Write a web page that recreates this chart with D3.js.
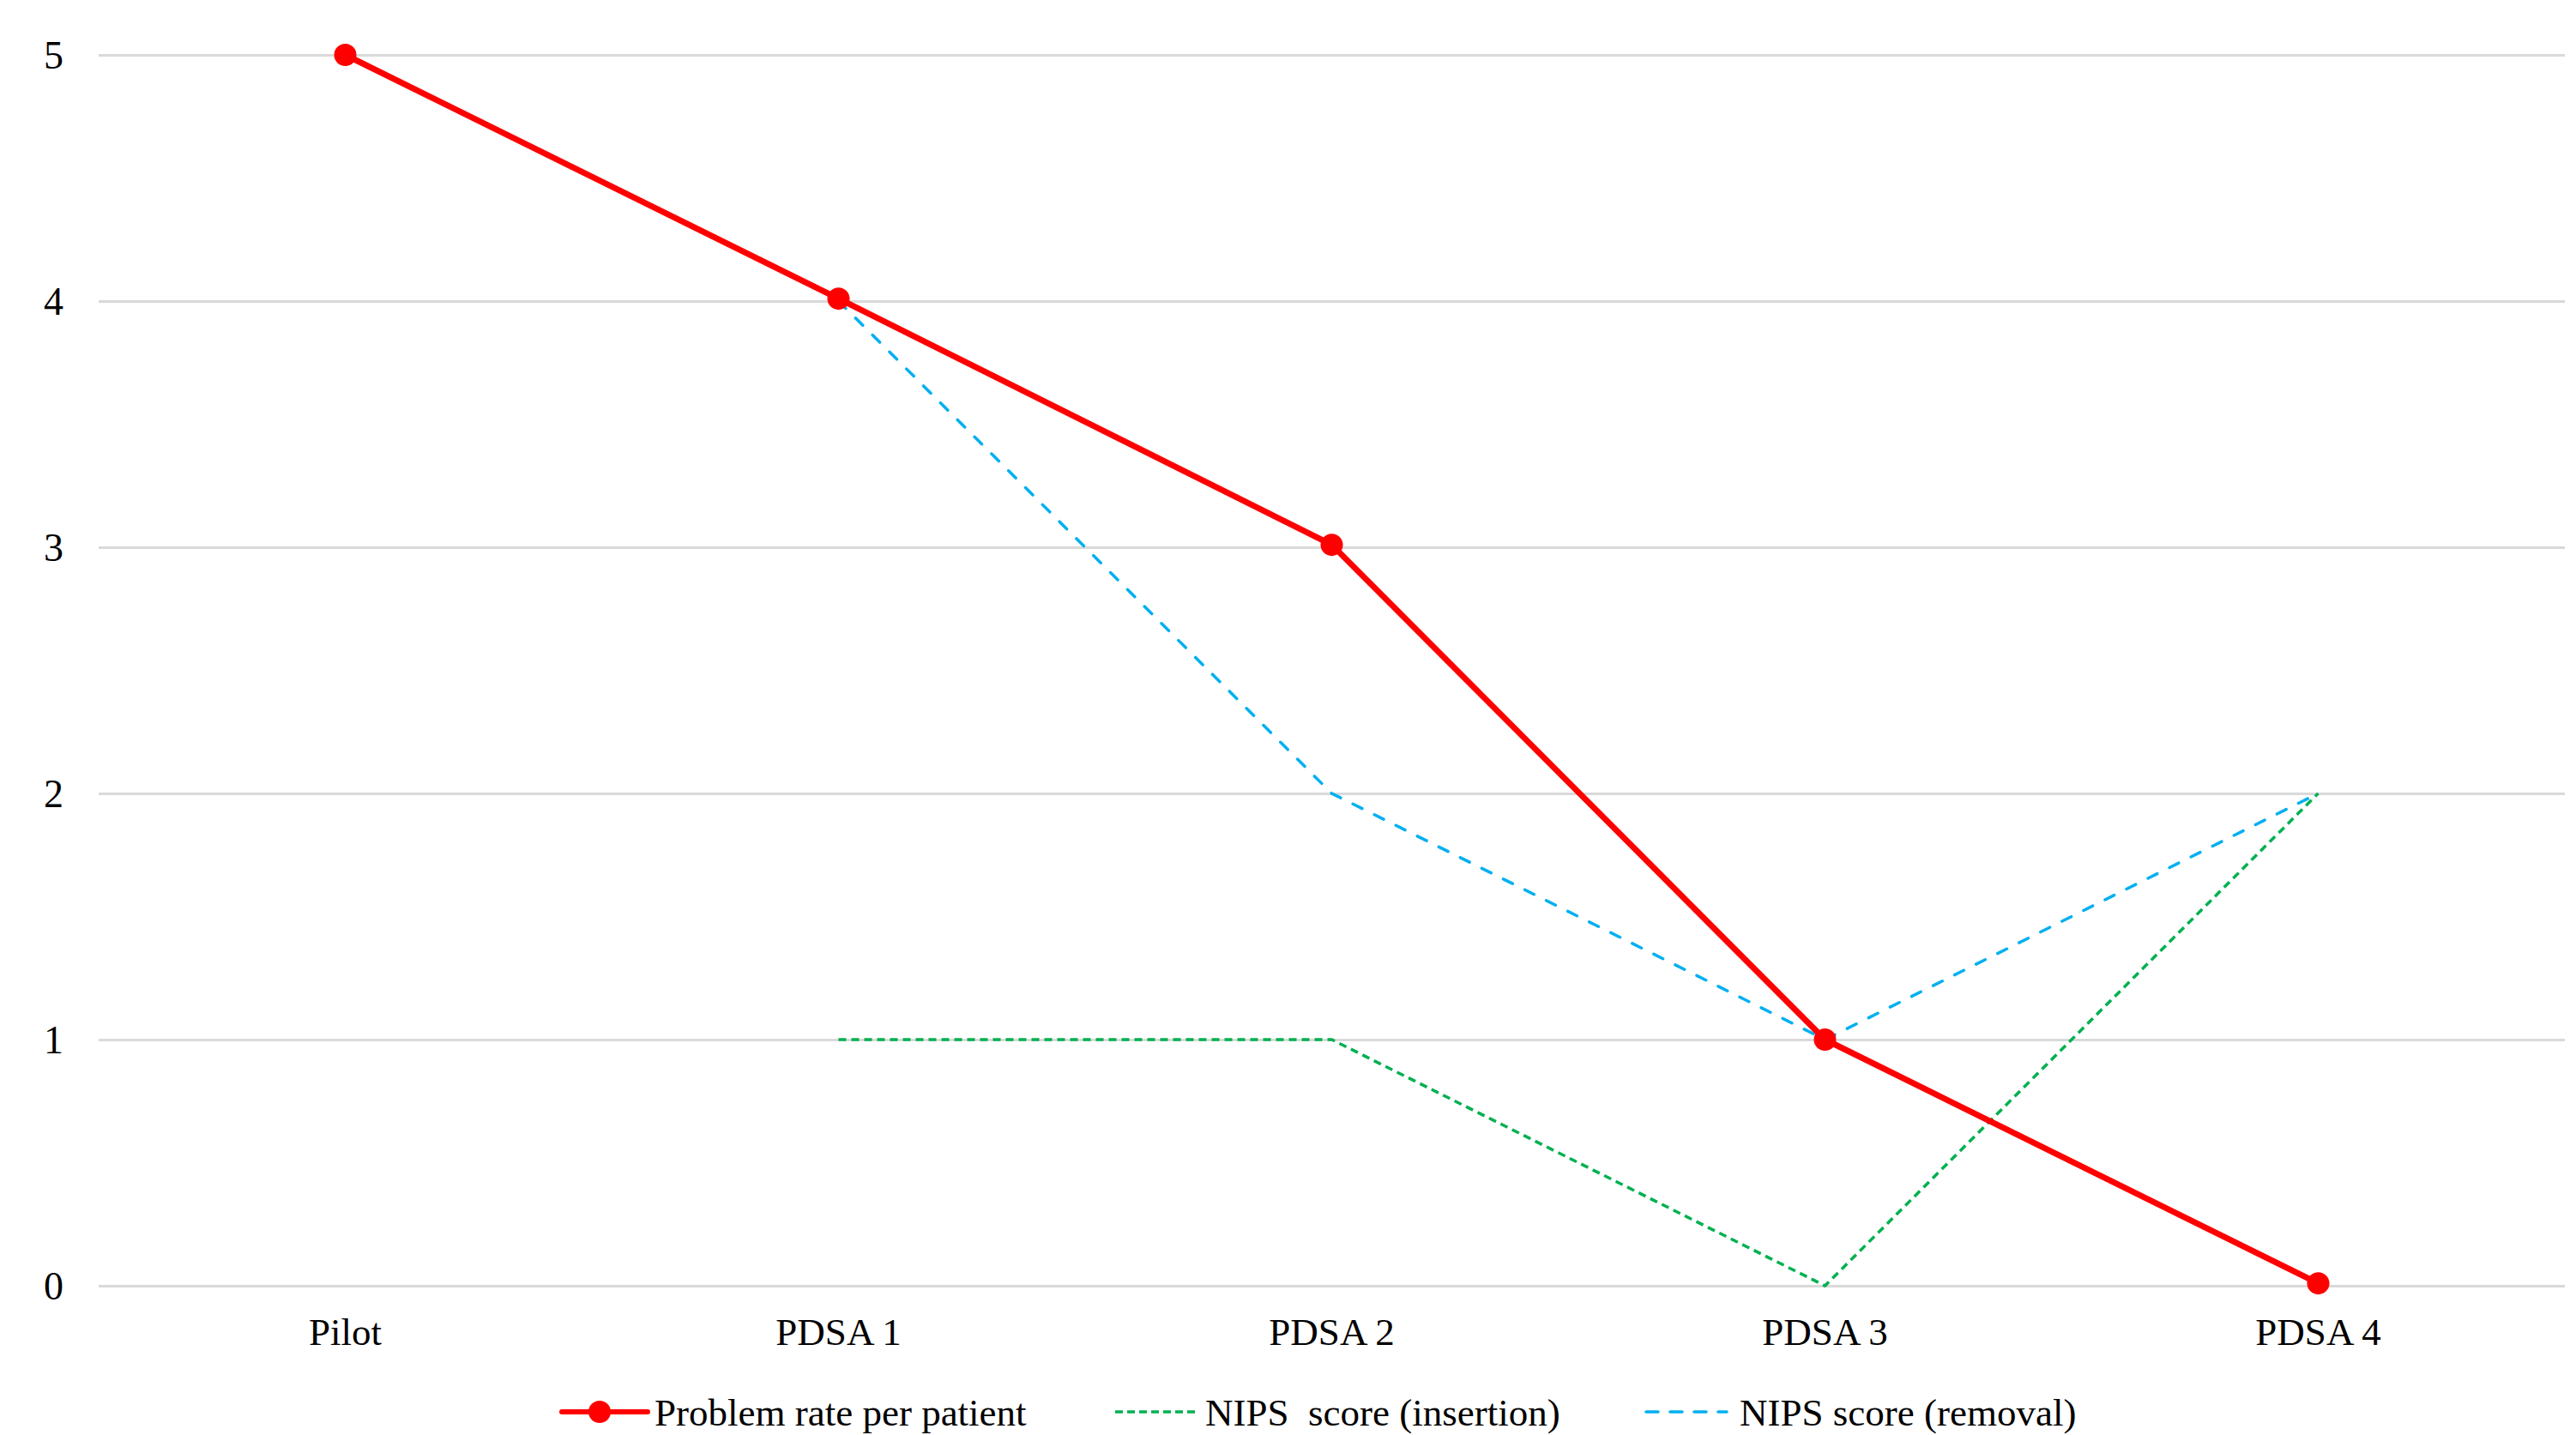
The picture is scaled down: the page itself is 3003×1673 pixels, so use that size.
<!DOCTYPE html>
<html>
<head>
<meta charset="utf-8">
<script src="https://cdn.jsdelivr.net/npm/d3@7/dist/d3.min.js"></script>
<style>
  html, body { margin: 0; padding: 0; background: #fff; }
  svg { display: block; }
  text { font-family: "Liberation Serif", "Times New Roman", serif; fill: #000; }
</style>
</head>
<body>
<script>
const categories = ["Pilot", "PDSA 1", "PDSA 2", "PDSA 3", "PDSA 4"];
const problemRate = [5, 4.01, 3.01, 1, 0.01];
const nipsInsertion = [null, 1, 1, 0, 2];
const nipsRemoval = [null, 4, 2, 1, 2];
const yTicks = [0, 1, 2, 3, 4, 5];
const legendLabels = ["Problem rate per patient", "NIPS  score (insertion)", "NIPS score (removal)"];

const W = 3003, H = 1673;
const svg = d3.select("body").append("svg").attr("width", W).attr("height", H);

const x = d3.scaleBand().domain(categories).range([115, 2990]);
const y = d3.scaleLinear().domain([0, 5]).range([1499, 64]);
const cx = d => x(d) + x.bandwidth() / 2;

// gridlines
const yAxis = d3.axisLeft(y).tickValues(yTicks).tickSize(-(2990 - 115)).tickFormat(d3.format("d")).tickPadding(0);
const gy = svg.append("g").attr("transform", "translate(115,0)").call(yAxis);
gy.select(".domain").remove();
gy.selectAll(".tick line").attr("stroke", "#D9D9D9").attr("stroke-width", 3);
gy.selectAll(".tick text")
  .attr("x", -41)
  .attr("dy", "0.34em")
  .style("font-size", "46px")
  .style("font-family", "Liberation Serif, Times New Roman, serif")
  .attr("fill", "#000");

// x axis labels
const xAxis = d3.axisBottom(x).tickSize(0).tickPadding(0);
const gx = svg.append("g").attr("transform", "translate(0,1499)").call(xAxis);
gx.select(".domain").remove();
gx.selectAll(".tick text")
  .attr("y", 69)
  .attr("dy", 0)
  .style("font-size", "45px")
  .style("font-family", "Liberation Serif, Times New Roman, serif")
  .attr("fill", "#000");

const line = d3.line()
  .defined(d => d.v !== null)
  .x(d => cx(d.c))
  .y(d => y(d.v));

const toPts = arr => categories.map((c, i) => ({ c: c, v: arr[i] }));

// NIPS insertion (green)
svg.append("path")
  .datum(toPts(nipsInsertion))
  .attr("d", line)
  .attr("fill", "none")
  .attr("stroke", "#00B050")
  .attr("stroke-width", 3.5)
  .attr("stroke-dasharray", "9,6");

// NIPS removal (blue)
svg.append("path")
  .datum(toPts(nipsRemoval))
  .attr("d", line)
  .attr("fill", "none")
  .attr("stroke", "#00B0F0")
  .attr("stroke-width", 3.5)
  .attr("stroke-linecap", "round")
  .attr("stroke-dasharray", "12,16");

// Problem rate (red)
svg.append("path")
  .datum(toPts(problemRate))
  .attr("d", line)
  .attr("fill", "none")
  .attr("stroke", "#FF0000")
  .attr("stroke-width", 7)
  .attr("stroke-linejoin", "round");

svg.append("g").selectAll("circle")
  .data(toPts(problemRate))
  .join("circle")
  .attr("cx", d => cx(d.c))
  .attr("cy", d => y(d.v))
  .attr("r", 13)
  .attr("fill", "#FF0000");

// legend
const lg = svg.append("g");
const ly = 1646, lty = 1662;
lg.append("line").attr("x1", 655).attr("x2", 755).attr("y1", ly).attr("y2", ly)
  .attr("stroke", "#FF0000").attr("stroke-width", 6).attr("stroke-linecap", "round");
lg.append("circle").attr("cx", 699).attr("cy", ly).attr("r", 13).attr("fill", "#FF0000");
lg.append("text").attr("x", 763).attr("y", lty).style("font-size", "45px").style("white-space", "pre").text(legendLabels[0]);

lg.append("line").attr("x1", 1300).attr("x2", 1394).attr("y1", ly).attr("y2", ly)
  .attr("stroke", "#00B050").attr("stroke-width", 3.5).attr("stroke-dasharray", "9,5");
lg.append("text").attr("x", 1405).attr("y", lty).style("font-size", "45px").style("white-space", "pre").text(legendLabels[1]);

lg.append("line").attr("x1", 1919).attr("x2", 2013).attr("y1", ly).attr("y2", ly)
  .attr("stroke", "#00B0F0").attr("stroke-width", 3.5).attr("stroke-linecap", "round").attr("stroke-dasharray", "14,14");
lg.append("text").attr("x", 2028).attr("y", lty).style("font-size", "45px").style("white-space", "pre").text(legendLabels[2]);
</script>
</body>
</html>
